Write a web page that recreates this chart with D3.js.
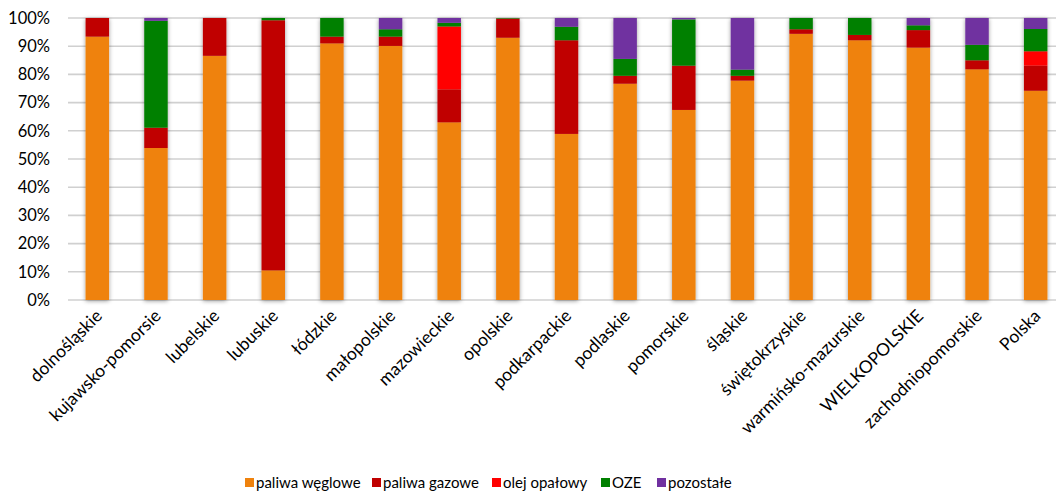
<!DOCTYPE html>
<html>
<head>
<meta charset="utf-8">
<script src="https://cdn.jsdelivr.net/npm/d3@7"></script>
<style>
  body { margin: 0; background: #fff; }
  svg { font-family: Lato, "Open Sans", sans-serif; }
</style>
</head>
<body>
<svg id="chart" width="1056" height="491"></svg>
<script>
const REGIONS = [
  "dolnośląskie", "kujawsko-pomorsie", "lubelskie", "lubuskie", "łódzkie",
  "małopolskie", "mazowieckie", "opolskie", "podkarpackie", "podlaskie",
  "pomorskie", "śląskie", "świętokrzyskie", "warmińsko-mazurskie",
  "WIELKOPOLSKIE", "zachodniopomorskie", "Polska",
];
const SERIES = ["paliwa węglowe", "paliwa gazowe", "olej opałowy", "OZE", "pozostałe"];
const COLORS = ["#EF820D", "#C00000", "#FF0000", "#008000", "#7030A0"];

// shares in percent, one array per series, in REGIONS order
const COAL = [93.4, 53.9, 86.6, 10.5, 91.0, 90.1, 63.0, 93.0, 58.9, 76.7, 67.4, 77.8, 94.4, 92.1, 89.5, 81.8, 74.2];
const GAS  = [6.6, 7.2, 13.4, 88.7, 2.4, 3.3, 11.7, 6.8, 33.2, 2.8, 15.7, 1.7, 1.6, 1.9, 6.2, 3.2, 8.9];
const OIL  = [0, 0, 0, 0, 0, 0, 22.3, 0, 0, 0, 0, 0, 0, 0, 0, 0, 5.1];
const OZE  = [0, 37.9, 0, 0.8, 6.6, 2.6, 1.3, 0.2, 4.8, 6.0, 16.4, 2.2, 4.0, 6.0, 1.7, 5.5, 7.9];
const REST = [0, 1.0, 0, 0, 0, 4.0, 1.7, 0, 3.1, 14.5, 0.5, 18.3, 0, 0, 2.6, 9.5, 3.9];
const Y_TICKS = [0, 10, 20, 30, 40, 50, 60, 70, 80, 90, 100];

const seriesValues = [COAL, GAS, OIL, OZE, REST];
const rows = REGIONS.map((r, i) => {
  const o = { region: r };
  SERIES.forEach((s, j) => (o[s] = seriesValues[j][i]));
  return o;
});

const svg = d3.select("#chart");
const margin = { top: 18, left: 68 };
const plotBottom = 300;
const plotRight = 1065;

const x = d3.scaleBand().domain(REGIONS).range([margin.left, plotRight]).paddingInner(0.6).paddingOuter(0.3);
const y = d3.scaleLinear().domain([0, 100]).range([plotBottom, margin.top]);
const color = d3.scaleOrdinal().domain(SERIES).range(COLORS);

// soft shadow like the original
const defs = svg.append("defs");
const f = defs.append("filter").attr("id", "shadow").attr("x", "-30%").attr("y", "-10%").attr("width", "160%").attr("height", "120%");
f.append("feDropShadow").attr("dx", 0).attr("dy", 1).attr("stdDeviation", 2.2).attr("flood-color", "#000").attr("flood-opacity", 0.4);

// gridlines
svg.append("g")
  .selectAll("line")
  .data(Y_TICKS)
  .join("line")
  .attr("x1", margin.left)
  .attr("x2", 1056)
  .attr("y1", (d) => y(d))
  .attr("y2", (d) => y(d))
  .attr("stroke", "#d0d0d0")
  .attr("stroke-width", 1.6);

// y axis labels
svg.append("g")
  .selectAll("text")
  .data(Y_TICKS)
  .join("text")
  .attr("x", 50)
  .attr("y", (d) => y(d))
  .attr("dy", "0.35em")
  .attr("text-anchor", "end")
  .attr("font-size", 16.5)
  .attr("fill", "#000")
  .text((d) => d + "%");

// stacked bars
const stacked = d3.stack().keys(SERIES)(rows);
const bars = svg.append("g");
REGIONS.forEach((r, i) => {
  const g = bars.append("g").attr("filter", "url(#shadow)");
  stacked.forEach((layer) => {
    const d = layer[i];
    if (d[1] - d[0] <= 0) return;
    g.append("rect")
      .attr("x", x(r))
      .attr("width", x.bandwidth())
      .attr("y", y(d[1]))
      .attr("height", y(d[0]) - y(d[1]))
      .attr("fill", color(layer.key));
  });
});

// x axis labels
svg.append("g")
  .selectAll("text")
  .data(REGIONS)
  .join("text")
  .attr("text-anchor", "end")
  .attr("font-size", 17.5)
  .attr("fill", "#000")
  .attr("transform", (d) => `translate(${x(d) + x.bandwidth() / 2 + 6},${plotBottom + 17}) rotate(-45)`)
  .text((d) => d);

// legend
const legendX = [245, 372, 492, 601, 657];
const legend = svg.append("g")
  .selectAll("g")
  .data(SERIES)
  .join("g")
  .attr("transform", (d, i) => `translate(${legendX[i]},478)`);
legend.append("rect").attr("width", 9).attr("height", 9).attr("fill", (d) => color(d));
legend.append("text")
  .attr("x", 11)
  .attr("y", 5)
  .attr("dy", "0.35em")
  .attr("font-size", 15)
  .attr("fill", "#000")
  .text((d) => d);
</script>
</body>
</html>
